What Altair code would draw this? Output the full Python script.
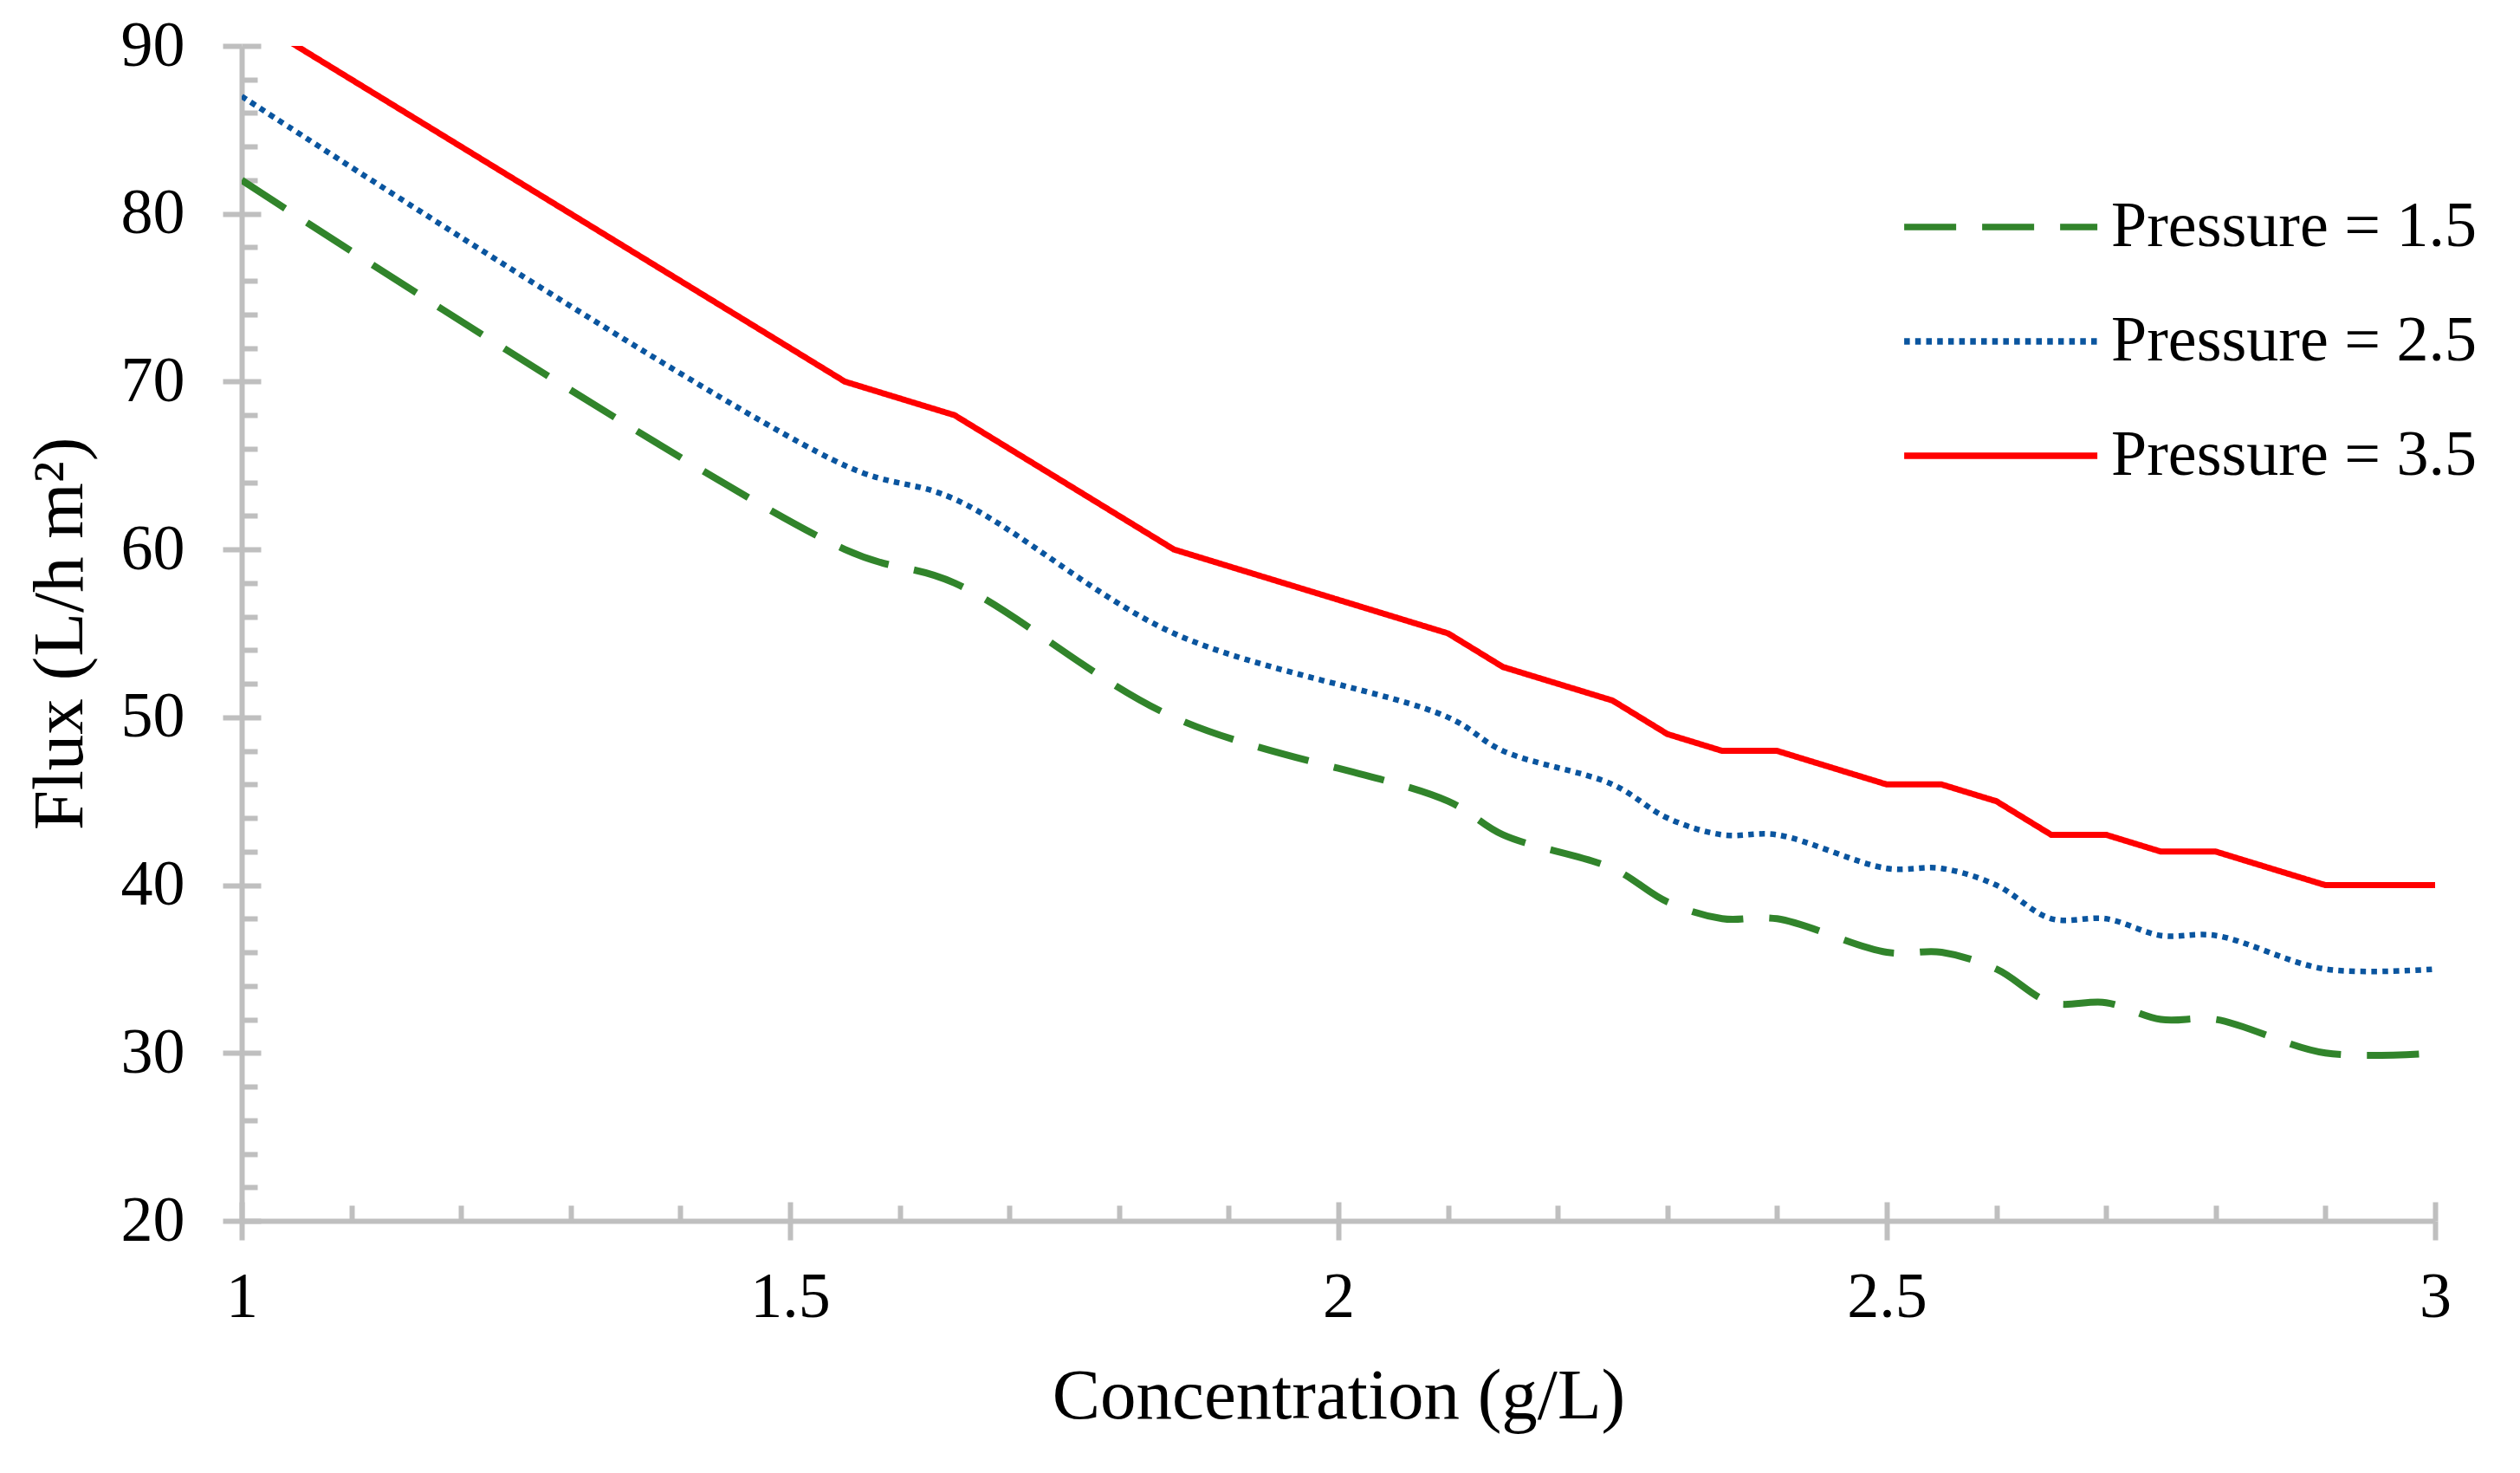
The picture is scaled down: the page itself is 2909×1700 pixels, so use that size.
import altair as alt
import pandas as pd

# ---- data ----
conc = [1.0, 1.55, 1.65, 1.85, 2.1, 2.15, 2.25, 2.3, 2.35, 2.4, 2.5, 2.55, 2.6, 2.65, 2.7, 2.75, 2.8, 2.9, 3.0]
flux_15 = [82, 60, 58, 50, 45, 43, 41, 39, 38, 38, 36, 36, 35, 33, 33, 32, 32, 30, 30]
flux_25 = [87, 65, 63, 55, 50, 48, 46, 44, 43, 43, 41, 41, 40, 38, 38, 37, 37, 35, 35]
flux_35 = [92, 70, 68, 60, 55, 53, 51, 49, 48, 48, 46, 46, 45, 43, 43, 42, 42, 40, 40]

series = ["Pressure = 1.5", "Pressure = 2.5", "Pressure = 3.5"]
colors = ["#31842B", "#0A559F", "#FF0000"]
dashes_round = [[57, 34], [0.01, 12.7], [1, 0]]
dashes_butt = [[60, 30], [6.5, 6.2], [1, 0]]

x_major = [1, 1.5, 2, 2.5, 3]
x_minor = [1.1, 1.2, 1.3, 1.4, 1.6, 1.7, 1.8, 1.9, 2.1, 2.2, 2.3, 2.4, 2.6, 2.7, 2.8, 2.9]
y_major = [20, 30, 40, 50, 60, 70, 80, 90]
y_minor = [22, 24, 26, 28, 32, 34, 36, 38, 42, 44, 46, 48, 52, 54, 56, 58,
           62, 64, 66, 68, 72, 74, 76, 78, 82, 84, 86, 88]

rows = []
for s, vals in zip(series, [flux_15, flux_25, flux_35]):
    for c, v in zip(conc, vals):
        rows.append({"series": s, "conc": c, "flux": v})
df = pd.DataFrame(rows)

FONT = "Liberation Serif"
GRAY = "#BFBFBF"

xscale = alt.Scale(domain=[1, 3], nice=False, zero=False)
yscale = alt.Scale(domain=[20, 90], nice=False, zero=False)
color_scale = alt.Scale(domain=series, range=colors)

common_tick = dict(tickColor=GRAY, tickWidth=6, grid=False)

main_x = alt.Axis(values=x_major, format="~g", title="Concentration (g/L)", orient="bottom",
                  domain=True, domainColor=GRAY, domainWidth=6, ticks=True, tickSize=22,
                  labelFont=FONT, labelFontSize=74, labelColor="black", labelPadding=30,
                  labelFlush=False, labelOverlap=False,
                  titleFont=FONT, titleFontSize=83, titleFontWeight="normal", titleColor="black",
                  titlePadding=36, **common_tick)
inner_x_major = alt.Axis(values=x_major, orient="bottom", offset=-22, tickSize=22, domain=False,
                         labels=False, title=None, **common_tick)
inner_x_minor = alt.Axis(values=x_minor, orient="bottom", offset=-18, tickSize=18, domain=False,
                         labels=False, title=None, **common_tick)

main_y = alt.Axis(values=y_major, title="Flux (L/h m²)", orient="left",
                  domain=True, domainColor=GRAY, domainWidth=6, ticks=True, tickSize=22,
                  labelFont=FONT, labelFontSize=74, labelColor="black", labelPadding=44,
                  labelFlush=False, labelOverlap=False,
                  titleFont=FONT, titleFontSize=83, titleFontWeight="normal", titleColor="black",
                  titlePadding=28, **common_tick)
inner_y_major = alt.Axis(values=y_major, orient="left", offset=-22, tickSize=22, domain=False,
                         labels=False, title=None, **common_tick)
inner_y_minor = alt.Axis(values=y_minor, orient="left", offset=-18, tickSize=18, domain=False,
                         labels=False, title=None, **common_tick)


def make_chart(round_caps):
    if round_caps:
        legend = alt.Legend(
            orient="none", legendX=1913, legendY=172, title=None,
            symbolType="M-1,0H7", symbolSize=2783, symbolStrokeWidth=7.5,
            labelFont=FONT, labelFontSize=74, labelColor="black",
            labelOffset=174, rowPadding=58, padding=0, labelLimit=0,
            encode={"symbols": {"update": {"strokeCap": {"value": "round"}}}},
        )
        dash_scale = alt.Scale(domain=series, range=dashes_round)
        cap = "round"
    else:
        legend = alt.Legend(
            orient="none", legendX=1910, legendY=172, title=None,
            symbolType="M-1,0H7", symbolSize=3108, symbolStrokeWidth=7.5,
            labelFont=FONT, labelFontSize=74, labelColor="black",
            labelOffset=174, rowPadding=58, padding=0, labelLimit=0,
        )
        dash_scale = alt.Scale(domain=series, range=dashes_butt)
        cap = "butt"

    def line_layer(sname, x_axis, y_axis, width, interp):
        return alt.Chart(df).transform_filter(alt.datum.series == sname).mark_line(
            strokeWidth=width, interpolate=interp, clip=True, strokeCap=cap, strokeJoin="round"
        ).encode(
            x=alt.X("conc:Q", scale=xscale, axis=x_axis),
            y=alt.Y("flux:Q", scale=yscale, axis=y_axis),
            color=alt.Color("series:N", scale=color_scale, legend=legend),
            strokeDash=alt.StrokeDash("series:N", scale=dash_scale, legend=legend),
        )

    green = line_layer(series[0], main_x, main_y, 8, "catmull-rom")
    blue = line_layer(series[1], inner_x_major, inner_y_major, 6.5, "catmull-rom")
    red = line_layer(series[2], inner_x_minor, inner_y_minor, 7, "linear")

    ch = alt.layer(green, blue, red).resolve_axis(
        x="independent", y="independent"
    ).properties(
        width=2532, height=1356,
        padding={"left": 271, "top": 45, "right": 80, "bottom": 250},
        autosize=alt.AutoSizeParams(type="none"),
        background="white",
    ).configure_view(stroke=None)
    ch.to_dict()
    return ch


try:
    chart = make_chart(True)
except Exception:
    chart = make_chart(False)

chart.save("out.html", embed_options={"renderer": "svg", "actions": False})
